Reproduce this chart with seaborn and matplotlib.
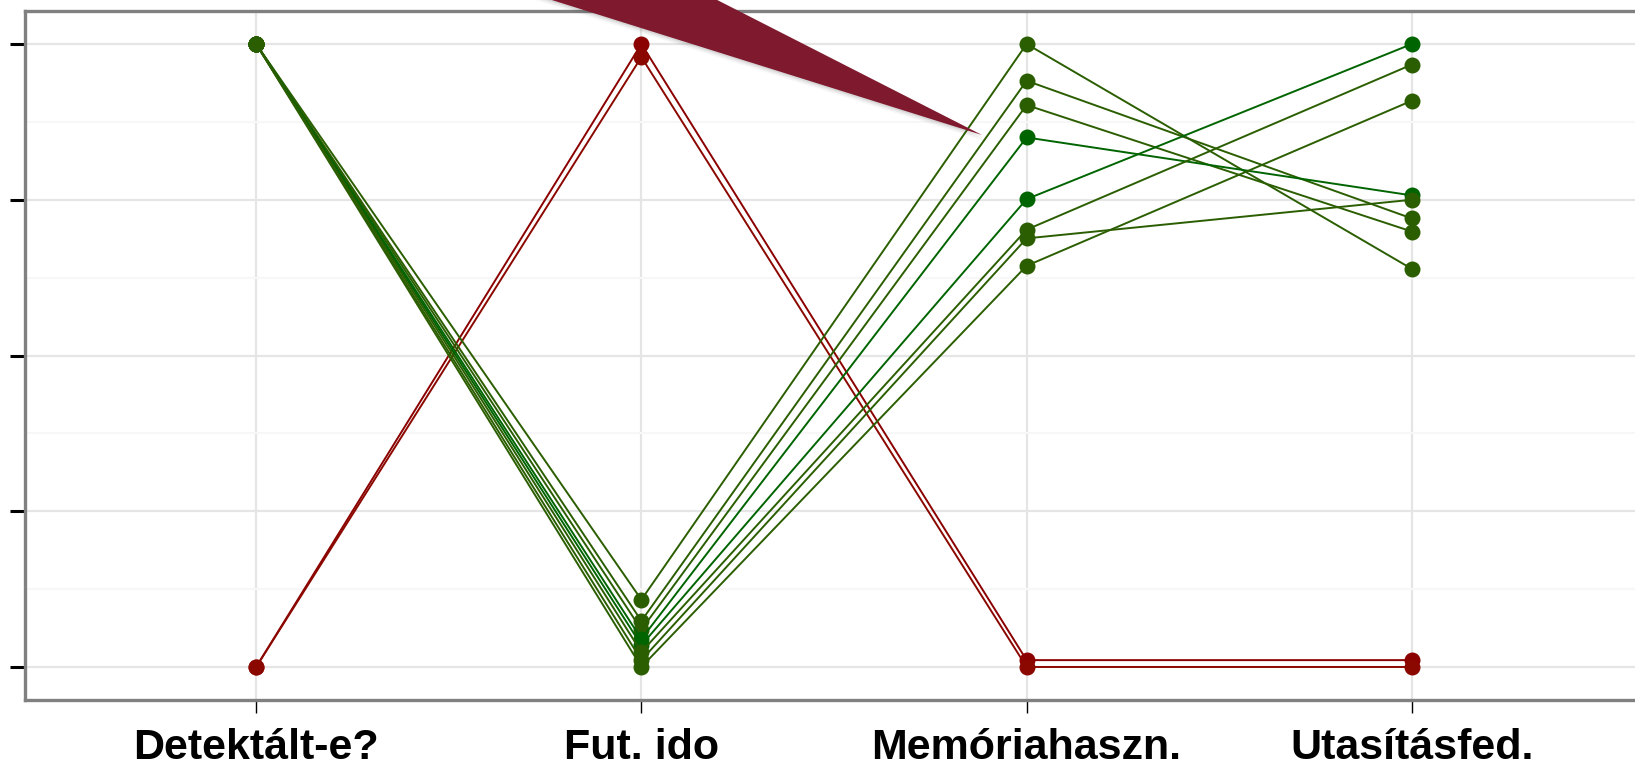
import seaborn as sns
import matplotlib.pyplot as plt
import pandas as pd
from matplotlib.patches import Polygon

# parallel coordinates, values scaled to 0..1 per variable
valtozok = ['Detektált-e?', 'Fut. ido', 'Memóriahaszn.', 'Utasításfed.']

detektalt = [0, 0, 1, 1, 1, 1, 1, 1, 1, 1]
fut_ido = [1.0, 0.979, 0.108, 0.074, 0.06, 0.045, 0.035, 0.024, 0.011, 0.0]
memoria = [0.011, 0.0, 1.0, 0.941, 0.902, 0.85, 0.751, 0.702, 0.688, 0.644]
utasitas = [0.011, 0.0, 0.639, 0.72, 0.699, 0.757, 1.0, 0.967, 0.75, 0.909]

szinek = ['#8b0000', '#8b0800',
          '#2b5e00', '#2b5e00', '#2b5e00', '#006400',
          '#006400', '#2b5e00', '#2b5e00', '#2b5e00']

rows = []
for i in range(len(detektalt)):
    for v, col in zip(valtozok, [detektalt, fut_ido, memoria, utasitas]):
        rows.append({'id': i, 'valtozo': v, 'ertek': col[i]})
df = pd.DataFrame(rows)

sns.set_style('whitegrid')
fig = plt.figure(figsize=(16.35, 7.66), dpi=100)
ax = fig.add_axes([25 / 1635, 66 / 766, 1618 / 1635, 689 / 766])

sns.lineplot(data=df, x='valtozo', y='ertek', hue='id', units='id',
             estimator=None, sort=False, palette=szinek, marker='o',
             markersize=11.5, markeredgewidth=0, linewidth=1.4,
             legend=False, ax=ax)

ax.set_xlim(-0.6, 3.6)
ax.set_ylim(-0.053, 1.053)
ax.set_xlabel('')
ax.set_ylabel('')

ax.set_yticks([0, 0.25, 0.5, 0.75, 1.0])
ax.set_yticks([0.125, 0.375, 0.625, 0.875], minor=True)
ax.set_yticklabels([])
ax.grid(which='major', color='#e5e5e5', linewidth=1.6)
ax.grid(which='minor', axis='y', color='#f7f7f7', linewidth=1.6)
ax.set_axisbelow(True)

ax.tick_params(axis='y', which='major', left=True, length=11, width=2.2,
               color='black')
ax.tick_params(axis='y', which='minor', left=False)
ax.tick_params(axis='x', bottom=True, length=9.4, width=1, color='black',
               pad=33, labelcolor='black')

ax.set_xticks(range(len(valtozok)))
ax.set_xticklabels(valtozok, fontsize=31, fontweight='bold',
                   family=['Liberation Sans', 'DejaVu Sans'])
for lbl in ax.get_xticklabels():
    lbl.set_verticalalignment('baseline')
    lbl.set_color('black')

for s in ax.spines.values():
    s.set_color('#808080')
    s.set_linewidth(2.4)

# callout arrow at the top (pixel coords, image y from top)
H = 766
tri = [(488, -20), (678, -20), (982, 135)]
for k, a in [(6, 0.05), (4, 0.08), (2, 0.12)]:
    sh = Polygon([(x + k * 0.5, H - (y + k)) for x, y in tri], closed=True,
                 transform=None, facecolor='#555555', edgecolor='none',
                 alpha=a, zorder=9)
    fig.patches.append(sh)
fig.patches.append(Polygon([(x, H - y) for x, y in tri], closed=True,
                           transform=None, facecolor='#7f1a2e',
                           edgecolor='none', zorder=10))

fig.savefig('out.png', dpi=100)
